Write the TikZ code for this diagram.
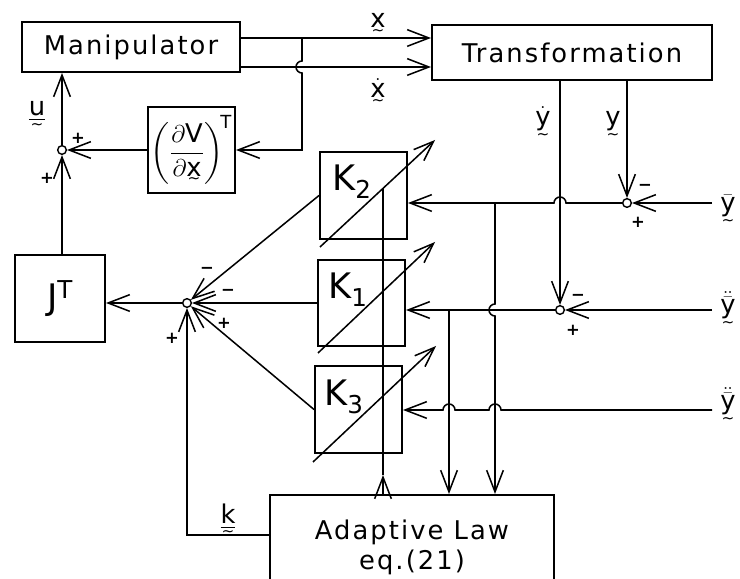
\documentclass[tikz,border=0pt]{standalone}
\usepackage{amsmath,amssymb}
\usepackage{fontspec}
\newfontfamily\figfont[LetterSpace=8]{DejaVu Sans}
\newcommand{\bigfig}{\figfont\fontsize{30}{32}\selectfont}
% letter with a tilde set close underneath
\newcommand{\vsym}[1]{\leavevmode\setbox0\hbox{#1}\vtop{\offinterlineskip\copy0\kern1.5pt\hbox to\wd0{\hss{\fontsize{13}{13}\selectfont\textasciitilde}\hss}}}
\usetikzlibrary{arrows.meta,calc}

\begin{document}
\begin{tikzpicture}[x=0.3mm,y=-0.3mm,line width=1.3pt,
  blk/.style={draw,line width=1.7pt,inner sep=0pt,align=center,font=\figfont\fontsize{22}{25}\selectfont},
  wh/.style 2 args={minimum width=#1*0.3mm,minimum height=#2*0.3mm},
  sumj/.style={draw,circle,line width=1.2pt,minimum size=2.6mm,inner sep=0pt,fill=white},
  arr/.style={-{Straight Barb[length=6.5mm,width=5mm]}},
  gain/.style={-{Straight Barb[length=6mm,width=4.5mm]}},
  sgn/.style={font=\figfont\bfseries\fontsize{14}{14}\selectfont,inner sep=0pt},
  sym/.style={font=\figfont\fontsize{22}{24}\selectfont,inner sep=0pt,anchor=base}]
\useasboundingbox (0,0) rectangle (740,579);
\clip (0,0) rectangle (740,579);
% top: manipulator, output transformation and (dV/dx)^T feedback
\node[blk,wh={218}{50}] (manip) at (131,47) {Manipulator};
\node[blk,wh={280}{55}] (trans) at (572,52.5) {Transformation};
\node[blk,wh={87}{86}] (dvdx) at (191.5,150) {$\left(\dfrac{\partial\text{V}}{\partial\text{\vsym{x}}}\right)^{\!\text{T}}$};
\node[blk,wh={90}{87},font=\bigfig] (jt) at (60,298.5) {J\textsuperscript{T}};
% gain blocks K2, K1, K3 and adaptive law
\node[blk,wh={87}{87}] (k2) at (363.5,195.5) {};
\node[blk,wh={87}{86}] (k1) at (361.5,303) {};
\node[blk,wh={87}{87}] (k3) at (358.5,409.5) {};
\node[font=\bigfig,inner sep=0pt] (k2txt) at (352,182) {K\textsubscript{2}};
\node[font=\bigfig,inner sep=0pt] (k1txt) at (348,290) {K\textsubscript{1}};
\node[font=\bigfig,inner sep=0pt] (k3txt) at (344,397) {K\textsubscript{3}};
\node[blk,wh={284}{105}] (law) at (412,547.5) {Adaptive Law\\eq.(21)};
% summing points
\node[sumj] (s1) at (62,150) {};
\node[sumj] (s2) at (187,303) {};
\node[sumj] (s3) at (627,203) {};
\node[sumj] (s4) at (560,310) {};
% branch points and free ends
\coordinate (xbr) at (302,38);
\coordinate (xdl) at (240,67);
\coordinate (ybarin) at (712,203);
\coordinate (ydin) at (712,310);
\coordinate (yddin) at (712,410);
\coordinate (r2) at (495,203);
\coordinate (r1) at (449,310);
\coordinate (kout) at (270,535);
\coordinate (gtip) at (383,475);
\coordinate (gtop) at (383,188);

% x and xdot into the transformation
\draw[arr] (manip.east |- xbr) -- (trans.west |- xbr);
\draw[arr] (xdl) -- (trans.west |- xdl);
\draw[arr] (xbr) -- (302,61) arc[start angle=-90,end angle=-270,radius=6] -- (302,150) -- (dvdx.east);
\draw[arr] (dvdx.west) -- (s1);
\draw[arr] (s1) -- (s1 |- manip.south);
\draw[arr] (s1 |- jt.north) -- (s1);
\draw[arr] (s2) -- (s2 -| jt.east);
% gain outputs into the left summing point
\draw[arr] (k2.west) -- (s2);
\draw[arr] (k1.west) -- (s2);
\draw[arr] (k3.west) -- (s2);
\draw[arr] (kout) -| (s2);
% errors formed from y, ydot and the references
\draw[arr] (trans.south -| s3) -- (s3);
\draw[arr] (ybarin) -- (s3);
\draw[arr] (s3) -- (566,203) arc[start angle=0,end angle=-180,radius=6] -- (k2.east |- s3);
\draw[arr] (trans.south -| s4) -- (s4);
\draw[arr] (ydin) -- (s4);
\draw[arr] (s4) -- (k1.east |- s4);
\draw[arr] (yddin) -- (501,410) arc[start angle=0,end angle=-180,radius=6] -- (455,410) arc[start angle=0,end angle=-180,radius=6] -- (k3.east |- yddin);
\draw[arr] (r2) -- (495,304) arc[start angle=-90,end angle=-270,radius=6] -- (r2 |- law.north);
\draw[arr] (r1) -- (r1 |- law.north);
% adapted gains back to the K blocks
\draw[arr] (gtip |- law.north) -- (gtip);
\draw (gtip) -- (gtop);
\draw[gain] (320,247) -- (435,140);
\draw[gain] (318,353) -- (435,242);
\draw[gain] (313,462) -- (436,346);

% signal names
\node[sym] (lx) at (378,28) {\vsym{x}};
\node[sym] (lxd) at (378,98) {\vsym{$\dot{\text{x}}$}};
\node[sym] (lu) at (37,116) {\vsym{\underline{u}}};
\node[sym] (lyd) at (543,126) {\vsym{$\dot{\text{y}}$}};
\node[sym] (ly) at (613,126) {\vsym{y}};
\node[sym] (lk) at (228,524) {\vsym{\underline{k}}};
\node[sym] (lyb) at (728,212) {\vsym{$\bar{\text{y}}$}};
\node[sym] (lydb) at (728,314) {\vsym{$\ddot{\bar{\text{y}}}$}};
\node[sym] (lyddb) at (728,410) {\vsym{$\ddot{\bar{\text{y}}}$}};
% signs at the summing points
\node[sgn] (p1a) at (78,138) {+};
\node[sgn] (p1b) at (47,178) {+};
\node[sgn] (m2a) at (207,270) {−};
\node[sgn] (m2b) at (228,292) {−};
\node[sgn] (p2a) at (224,323) {+};
\node[sgn] (p2b) at (172,338) {+};
\node[sgn] (m3) at (645,187) {−};
\node[sgn] (p3) at (638,222) {+};
\node[sgn] (m4) at (578,297) {−};
\node[sgn] (p4) at (573,330) {+};
\end{tikzpicture}
\end{document}
